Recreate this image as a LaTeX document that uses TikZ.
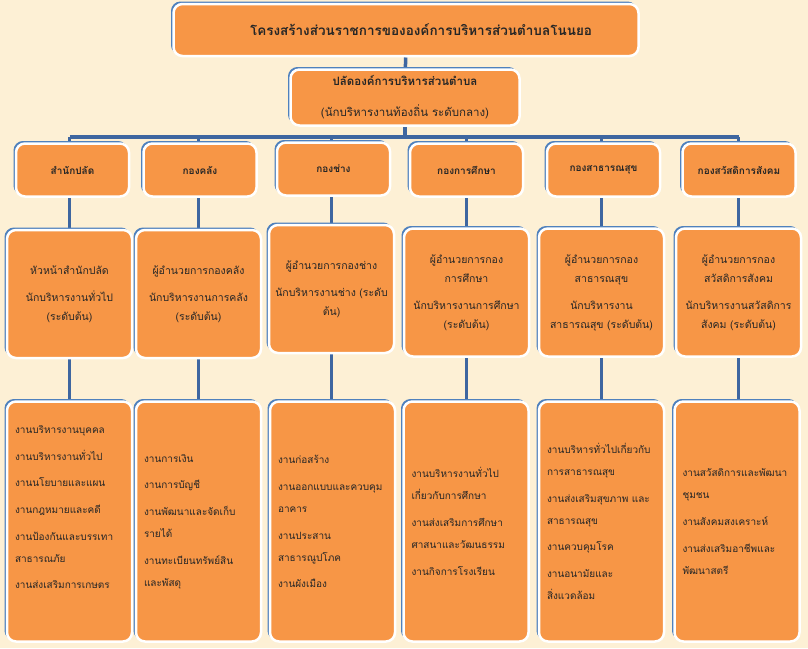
\documentclass[tikz,border=0pt]{standalone}
\usepackage{fontspec}
\newfontfamily\thaifont[Script=Thai]{Loma}
\usetikzlibrary{shadows,backgrounds}

\definecolor{cream}{RGB}{253,240,213}
\definecolor{orng}{RGB}{247,150,70}
\definecolor{edgeblue}{RGB}{79,129,189}
\definecolor{lineblue}{RGB}{62,102,160}
\definecolor{ink}{RGB}{38,38,38}

\tikzset{
	box/.style={rectangle, rounded corners=9pt, fill=orng, draw=white, line width=2.5pt, text=ink, align=center,
		copy shadow={shadow xshift=-2pt, shadow yshift=2pt, fill=edgeblue, draw=edgeblue, line width=1pt}},
	headbox/.style={box, minimum width=113pt, minimum height=53pt, font=\thaifont\bfseries\fontsize{10}{12}\selectfont},
	chiefbox/.style={box, text width=113pt, inner sep=6pt, minimum height=128pt, font=\thaifont\fontsize{10.5}{19}\selectfont},
	workbox/.style={box, align=left, text width=109pt, inner sep=8pt, minimum height=240pt, font=\thaifont\fontsize{10}{22}\selectfont},
	conn/.style={draw=lineblue, line width=3.5pt}
}

\begin{document}
\begin{tikzpicture}[x=1pt,y=-1pt]
		\useasboundingbox (0,0) rectangle (808,648);
		
		\node[box, minimum width=465pt, minimum height=52pt, font=\thaifont\bfseries\fontsize{13.5}{16}\selectfont] (t) at (406,30) {\hspace*{30pt}โครงสร้างส่วนราชการขององค์การบริหารส่วนตำบลโนนยอ};
		\node[box, minimum width=229pt, minimum height=56pt, font=\thaifont\fontsize{11.5}{20}\selectfont] (p) at (405,97.5) {\textbf{ปลัดองค์การบริหารส่วนตำบล}\\[11pt](นักบริหารงานท้องถิ่น ระดับกลาง)};
		\coordinate (bar) at (405,137);
		
		\node[headbox] (h1) at (72.5,170) {สำนักปลัด};
		\node[headbox] (h2) at (200,170) {กองคลัง};
		\node[headbox] (h3) at (333.5,169) {กองช่าง};
		\node[headbox] (h4) at (466.5,170) {กองการศึกษา};
		\node[headbox] (h5) at (603.5,170) {กองสาธารณสุข};
		\node[headbox] (h6) at (739,170) {กองสวัสดิการสังคม};
		
		\node[chiefbox] (m1) at (69.5,294) {หัวหน้าสำนักปลัด\\[8pt]นักบริหารงานทั่วไป\\(ระดับต้น)};
		\node[chiefbox] (m2) at (198.5,294) {ผู้อำนวยการกองคลัง\\[8pt]นักบริหารงานการคลัง\\(ระดับต้น)};
		\node[chiefbox] (m3) at (331.5,289) {ผู้อำนวยการกองช่าง\\[8pt]นักบริหารงานช่าง (ระดับ\\ต้น)};
		\node[chiefbox] (m4) at (466.5,292.5) {ผู้อำนวยการกอง\\การศึกษา\\[8pt]นักบริหารงานการศึกษา\\(ระดับต้น)};
		\node[chiefbox] (m5) at (601.5,292.5) {ผู้อำนวยการกอง\\สาธารณสุข\\[8pt]นักบริหารงาน\\สาธารณสุข (ระดับต้น)};
		\node[chiefbox] (m6) at (738.5,292.5) {ผู้อำนวยการกอง\\สวัสดิการสังคม\\[8pt]นักบริหารงานสวัสดิการ\\สังคม (ระดับต้น)};
		
		\node[workbox] (w1) at (69.5,521.5) {งานบริหารงานบุคคล\\[4.7pt]งานบริหารงานทั่วไป\\[4.7pt]งานนโยบายและแผน\\[4.7pt]งานกฎหมายและคดี\\[4.7pt]งานป้องกันและบรรเทา\\สาธารณภัย\\[4.7pt]งานส่งเสริมการเกษตร\\[0pt]\strut};
		\node[workbox] (w2) at (198.5,521.5) {งานการเงิน\\[4.7pt]งานการบัญชี\\[4.7pt]งานพัฒนาและจัดเก็บ\\รายได้\\[4.7pt]งานทะเบียนทรัพย์สิน\\และพัสดุ};
		\node[workbox] (w3) at (332.5,521.5) {งานก่อสร้าง\\[4.7pt]งานออกแบบและควบคุม\\อาคาร\\[4.7pt]งานประสาน\\สาธารณูปโภค\\[4.7pt]งานผังเมือง};
		\node[workbox] (w4) at (466,521.5) {งานบริหารงานทั่วไป\\เกี่ยวกับการศึกษา\\[4.7pt]งานส่งเสริมการศึกษา\\ศาสนาและวัฒนธรรม\\[4.7pt]งานกิจการโรงเรียน};
		\node[workbox] (w5) at (601.5,521.5) {งานบริหารทั่วไปเกี่ยวกับ\\การสาธารณสุข\\[4.7pt]งานส่งเสริมสุขภาพ และ\\สาธารณสุข\\[4.7pt]งานควบคุมโรค\\[4.7pt]งานอนามัยและ\\สิ่งแวดล้อม};
		\node[workbox] (w6) at (737,521.5) {งานสวัสดิการและพัฒนา\\ชุมชน\\[4.7pt]งานสังคมสงเคราะห์\\[4.7pt]งานส่งเสริมอาชีพและ\\พัฒนาสตรี};
		
		\begin{pgfonlayer}{background}
		\fill[cream] (0,0) rectangle (808,648);
		
		\draw[conn] (t) -- (p);
		\draw[conn] (p) -- (bar);
		\draw[conn] (bar -| m1) -- (bar -| m6);
		
		\draw[conn] (bar -| m1) -- (m1);
		\draw[conn] (bar -| m2) -- (m2);
		\draw[conn] (bar -| m3) -- (m3);
		\draw[conn] (bar -| m4) -- (m4);
		\draw[conn] (bar -| m5) -- (m5);
		\draw[conn] (bar -| m6) -- (m6);
		
		\draw[conn] (m1) -- (m1 |- w1);
		\draw[conn] (m2) -- (m2 |- w2);
		\draw[conn] (m3) -- (m3 |- w3);
		\draw[conn] (m4) -- (m4 |- w4);
		\draw[conn] (m5) -- (m5 |- w5);
		\draw[conn] (m6) -- (m6 |- w6);
		\end{pgfonlayer}
	\end{tikzpicture}
\end{document}
